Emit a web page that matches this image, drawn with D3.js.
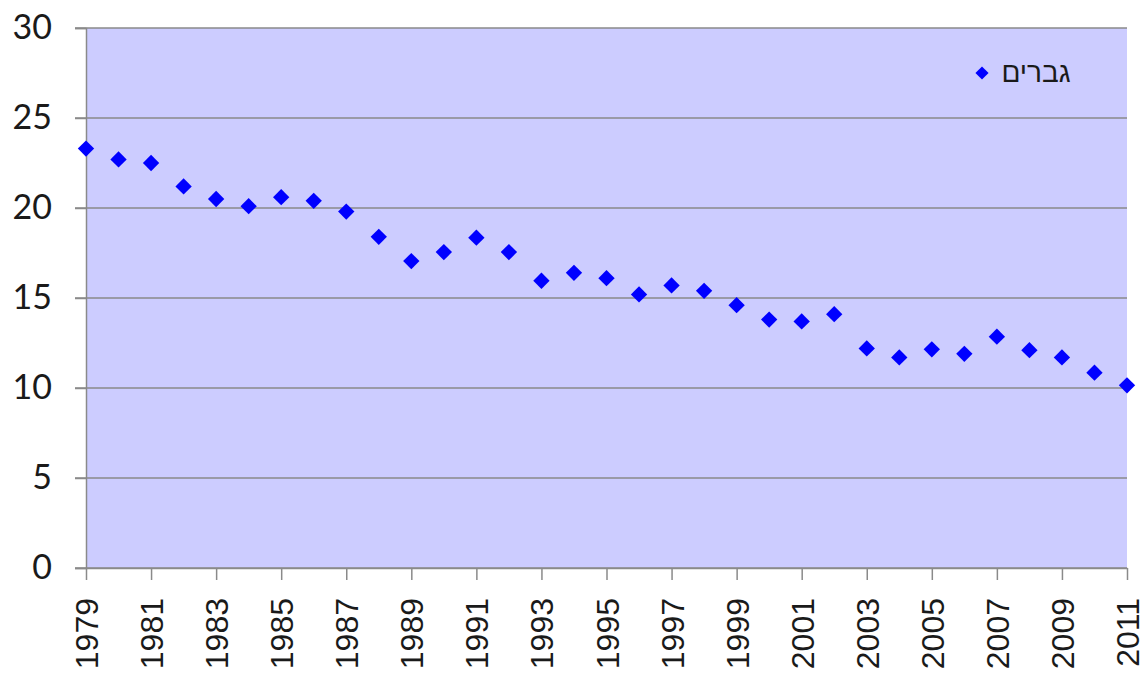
<!DOCTYPE html>
<html>
<head>
<meta charset="utf-8">
<script src="https://cdn.jsdelivr.net/npm/d3@7"></script>
<style>
  body { margin: 0; background: #fff; }
  svg { display: block; }
  .yAxis text { font-family: Lato, "Open Sans", sans-serif; font-size: 34px; fill: #1a1a1a; }
  .xAxis text { font-family: "Liberation Sans", Arial, sans-serif; font-size: 32px; fill: #1a1a1a; }
  .legend text { font-family: "Liberation Sans", "DejaVu Sans", sans-serif; font-size: 28px; fill: #1a1a1a; }
</style>
</head>
<body>
<svg id="chart"></svg>
<script>
var svgWidth = 1148;
var svgHeight = 675;

var plotLeft = 86, plotRight = 1127, plotTop = 28, plotBottom = 568;

// data
var years = [1979, 1980, 1981, 1982, 1983, 1984, 1985, 1986, 1987, 1988, 1989,
             1990, 1991, 1992, 1993, 1994, 1995, 1996, 1997, 1998, 1999, 2000,
             2001, 2002, 2003, 2004, 2005, 2006, 2007, 2008, 2009, 2010, 2011];
var men = [23.3, 22.7, 22.5, 21.2, 20.5, 20.1, 20.6, 20.4, 19.8, 18.4, 17.05,
           17.55, 18.35, 17.55, 15.96, 16.4, 16.1, 15.2, 15.7, 15.4, 14.6, 13.8,
           13.7, 14.1, 12.2, 11.7, 12.15, 11.9, 12.85, 12.1, 11.7, 10.85, 10.15];
var yTicks = [0, 5, 10, 15, 20, 25, 30];
var xTicks = [1979, 1981, 1983, 1985, 1987, 1989, 1991, 1993, 1995, 1997, 1999,
              2001, 2003, 2005, 2007, 2009, 2011];
var seriesName = 'גברים';

var svg = d3.select('#chart').attr('width', svgWidth).attr('height', svgHeight);

var xScale = d3.scaleLinear().domain([1979, 2011]).range([plotLeft, plotRight]);
var yScale = d3.scaleLinear().domain([0, 30]).range([plotBottom, plotTop]);

// plot background
svg.append('rect')
   .attr('x', plotLeft).attr('y', plotTop)
   .attr('width', plotRight - plotLeft).attr('height', plotBottom - plotTop)
   .attr('fill', '#ccccff');

// gridlines
svg.append('g').selectAll('line')
   .data(yTicks)
   .enter().append('line')
   .attr('x1', plotLeft - 11).attr('x2', plotRight)
   .attr('y1', d => yScale(d)).attr('y2', d => yScale(d))
   .attr('stroke', '#8a8a8a').attr('stroke-width', 1.5);

// y axis
var yAxis = svg.append('g')
   .attr('class', 'yAxis')
   .attr('transform', 'translate(' + plotLeft + ',0)')
   .call(d3.axisLeft(yScale).tickValues(yTicks).tickSize(11).tickPadding(23));
yAxis.selectAll('line').attr('stroke', '#8a8a8a').attr('stroke-width', 1.5);
yAxis.select('.domain').attr('stroke', '#8a8a8a').attr('stroke-width', 1.5);

// x axis
var xAxis = svg.append('g')
   .attr('class', 'xAxis')
   .attr('transform', 'translate(0,' + plotBottom + ')')
   .call(d3.axisBottom(xScale).tickValues(xTicks).tickSizeInner(12).tickSizeOuter(0).tickFormat(d3.format('d')));
xAxis.selectAll('line').attr('stroke', '#8a8a8a').attr('stroke-width', 1.5);
xAxis.select('.domain').attr('stroke', '#8a8a8a').attr('stroke-width', 1.5);
xAxis.selectAll('text')
     .attr('transform', 'rotate(-90)')
     .attr('text-anchor', 'end')
     .attr('x', -30)
     .attr('y', 0)
     .attr('dy', '0.36em');

// points
var diamond = d3.symbol().type(d3.symbolDiamond2).size(170);
svg.append('g').selectAll('path')
   .data(years)
   .enter().append('path')
   .attr('d', diamond)
   .attr('transform', (d, i) => 'translate(' + xScale(d) + ',' + yScale(men[i]) + ')')
   .attr('fill', '#0000ff');

// legend
var legend = svg.append('g').attr('class', 'legend');
legend.append('path')
   .attr('d', d3.symbol().type(d3.symbolDiamond2).size(110))
   .attr('transform', 'translate(982,73)')
   .attr('fill', '#0000ff');
legend.append('text')
   .attr('x', 1036).attr('y', 82)
   .attr('text-anchor', 'middle')
   .text(seriesName);
</script>
</body>
</html>
